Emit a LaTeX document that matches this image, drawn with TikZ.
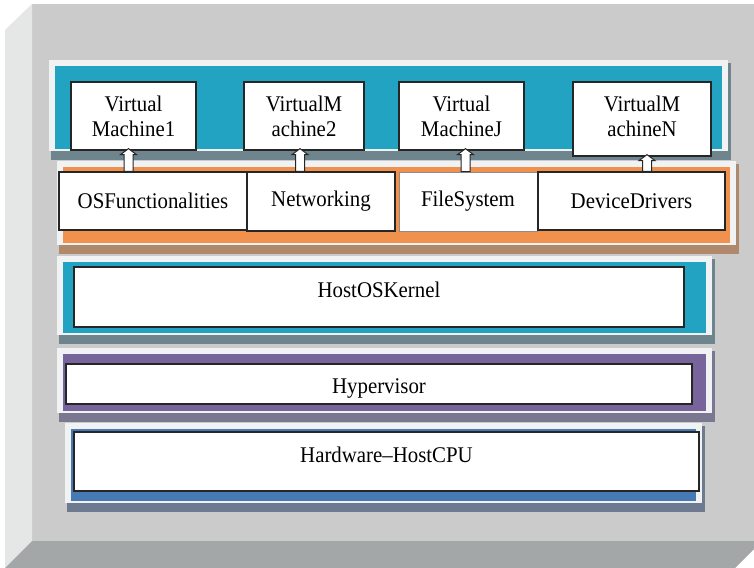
\documentclass[tikz,border=0pt]{standalone}
\usepackage{fontspec}
\setmainfont[FakeStretch=0.93]{Liberation Serif}
\usepackage{tikz}
\usetikzlibrary{calc}
\definecolor{CaseFront}{HTML}{CBCBCB}
\definecolor{CaseSide}{HTML}{E5E6E6}
\definecolor{CaseBase}{HTML}{A4A7A7}
\definecolor{FrameWhite}{HTML}{F1F2F4}
\definecolor{LayTeal}{HTML}{22A3C2}
\definecolor{LayOrange}{HTML}{F0914E}
\definecolor{LayPurple}{HTML}{76649B}
\definecolor{LayBlue}{HTML}{4779B5}
\definecolor{ShdGrey}{HTML}{6E858E}
\definecolor{ShdBrown}{HTML}{B0886C}
\definecolor{ShdViolet}{HTML}{7A7890}
\definecolor{ShdBlue}{HTML}{6E7A90}

\begin{document}
\begin{tikzpicture}[x=1bp,y=-1bp,
  font=\fontsize{22.5}{25}\selectfont,
  box/.style={draw=black!85,line width=1.3bp,fill=white,align=center,inner sep=0pt},
  hollow/.style={draw=black!85,line width=1bp,fill=white,line join=miter},
]
\useasboundingbox (0,0) rectangle (754,568);
% casing
\fill[CaseFront] (32,4) rectangle (754,541);
\fill[CaseSide] (5,30) -- (32,4) -- (32,541) -- (5,568) -- cycle;
\fill[CaseBase] (32,541) -- (754,541) -- (754,549) -- (735,568) -- (5,568) -- cycle;

% layer bands
\foreach \xa/\ya/\xb/\yb/\col/\shd in {49/60/728/151/LayTeal/ShdGrey,
    57/161/736/245/LayOrange/ShdBrown, 57/256/712/335/LayTeal/ShdGrey,
    57/348/712/413/LayPurple/ShdViolet, 65/423/702/503/LayBlue/ShdBlue}{
  \fill[\shd] (\xa+2,\ya+3) rectangle (\xb+3,\yb+9);
  \fill[FrameWhite] (\xa,\ya) rectangle (\xb,\yb);
  \fill[\col] (\xa+6,\ya+6) rectangle (\xb-6,\yb-2);
}

% virtual machines
\node[box,minimum width=125bp,minimum height=68bp] (vm1) at (133.5,116) {Virtual\\Machine1};
\node[box,minimum width=120bp,minimum height=68bp] (vm2) at (304,116) {VirtualM\\achine2};
\node[box,minimum width=125bp,minimum height=68bp] (vmj) at (461.5,116) {Virtual\\MachineJ};
\node[box,minimum width=138bp,minimum height=74bp,text depth=6bp] (vmn) at (642,119) {VirtualM\\achineN};

% host services
\node[box,minimum width=188bp,minimum height=58bp] (os) at (153,201) {OSFunctionalities};
\node[box,minimum width=148bp,minimum height=59bp] (net) at (321,201.5) {Networking};
\node[box,draw=black!45,line width=0.8bp,minimum width=138bp,minimum height=59bp] (fs) at (468,201.5) {FileSystem};
\node[box,minimum width=187bp,minimum height=58bp] (dev) at (631.5,201) {DeviceDrivers};

% lower layers
\node[box,minimum width=610bp,minimum height=60bp,text depth=14bp] (kernel) at (379,297) {HostOSKernel};
\node[box,minimum width=626bp,minimum height=40bp,text height=23bp] (hyper) at (379,384) {Hypervisor};
\node[box,minimum width=625bp,minimum height=59bp,text depth=14bp] (hw) at (386.5,461.5) {Hardware--HostCPU};

% block arrows
\foreach \v/\s/\dx in {vm1/os/-5,vm2/net/-4,vmj/fs/4,vmn/dev/5}
  \draw[hollow] ($(\v.south |- \s.north)+(\dx-4.5,0)$) -- ($(\v.south)+(\dx-4.5,4)$)
    -- ($(\v.south)+(\dx-8,4)$) -- ($(\v.south)+(\dx,-2)$) -- ($(\v.south)+(\dx+8,4)$)
    -- ($(\v.south)+(\dx+4.5,4)$) -- ($(\v.south |- \s.north)+(\dx+4.5,0)$) -- cycle;
\end{tikzpicture}
\end{document}
